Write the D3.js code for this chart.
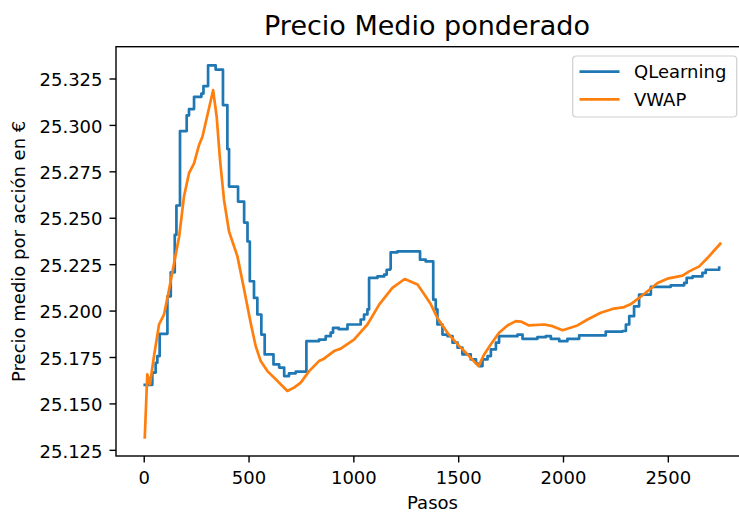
<!DOCTYPE html>
<html>
<head>
<meta charset="utf-8">
<script src="https://cdn.jsdelivr.net/npm/d3@7"></script>
<style>
  html, body { margin: 0; padding: 0; background: #fff; }
  svg { display: block; font-family: "DejaVu Sans", sans-serif; }
</style>
</head>
<body>
<svg id="chart" width="739" height="515"></svg>
<script>
// Step positions and average price for the Q-learning agent (held until the next step)
const qlearningPasos = [5, 41, 57, 65, 76, 113, 129, 148, 156, 173, 205, 216, 240, 275, 285, 307, 343, 378, 399, 407,
  450, 479, 495, 506, 526, 542, 561, 577, 619, 646, 670, 693, 725, 776, 836, 868, 892, 903, 930, 972,
  1035, 1051, 1067, 1075, 1115, 1147, 1159, 1175, 1178, 1210, 1318, 1345, 1381, 1393, 1401, 1425, 1449, 1473, 1497, 1520,
  1560, 1585, 1600, 1616, 1640, 1656, 1680, 1695, 1783, 1807, 1878, 1918, 1942, 1982, 2021, 2077, 2204, 2284, 2300, 2316,
  2339, 2363, 2419, 2514, 2578, 2590, 2618, 2665, 2681, 2745];
const qlearningPrecio = [25.1600, 25.1666, 25.1719, 25.1755, 25.1875, 25.2077, 25.2206, 25.2408, 25.2566, 25.2967, 25.3051, 25.3085, 25.3151, 25.3169, 25.3209, 25.3321, 25.3298, 25.3107, 25.2870, 25.2668,
  25.2587, 25.2474, 25.2372, 25.2158, 25.2068, 25.1979, 25.1871, 25.1764, 25.1710, 25.1693, 25.1647, 25.1662, 25.1671, 25.1835, 25.1844, 25.1862, 25.1881, 25.1907, 25.1900, 25.1925,
  25.1952, 25.1979, 25.2006, 25.2176, 25.2184, 25.2194, 25.2220, 25.2225, 25.2313, 25.2319, 25.2274, 25.2265, 25.2059, 25.2006, 25.1925, 25.1871, 25.1862, 25.1827, 25.1800, 25.1764,
  25.1737, 25.1715, 25.1701, 25.1737, 25.1755, 25.1791, 25.1827, 25.1862, 25.1871, 25.1848, 25.1857, 25.1862, 25.1848, 25.1835, 25.1848, 25.1866, 25.1887, 25.1890, 25.1925, 25.1970,
  25.2023, 25.2086, 25.2128, 25.2136, 25.2149, 25.2176, 25.2184, 25.2203, 25.2220, 25.2231];

// VWAP benchmark price
const vwapPasos = [5, 17, 30, 49, 73, 97, 121, 145, 169, 192, 216, 240, 264, 280, 304, 331, 348, 364, 383, 407,
  447, 479, 510, 534, 558, 590, 638, 685, 717, 749, 789, 836, 860, 908, 940, 1003, 1067, 1123, 1186, 1245,
  1306, 1334, 1369, 1401, 1449, 1504, 1552, 1597, 1624, 1656, 1695, 1735, 1775, 1799, 1838, 1910, 1950, 1998, 2069, 2117,
  2180, 2236, 2292, 2324, 2363, 2403, 2451, 2498, 2570, 2602, 2650, 2689, 2750];
const vwapPrecio = [25.1317, 25.1657, 25.1603, 25.1755, 25.1925, 25.1979, 25.2113, 25.2256, 25.2399, 25.2614, 25.2740, 25.2793, 25.2892, 25.2936, 25.3053, 25.3187, 25.3044, 25.2811, 25.2596, 25.2426,
  25.2292, 25.2113, 25.1934, 25.1809, 25.1728, 25.1674, 25.1621, 25.1567, 25.1585, 25.1612, 25.1674, 25.1728, 25.1741, 25.1782, 25.1795, 25.1844, 25.1925, 25.2032, 25.2122, 25.2170,
  25.2140, 25.2095, 25.2035, 25.1960, 25.1880, 25.1810, 25.1755, 25.1701, 25.1764, 25.1818, 25.1881, 25.1920, 25.1943, 25.1941, 25.1920, 25.1925, 25.1916, 25.1894, 25.1920, 25.1952,
  25.1988, 25.2009, 25.2019, 25.2035, 25.2068, 25.2104, 25.2149, 25.2172, 25.2188, 25.2211, 25.2238, 25.2283, 25.2360];

const seriesNames = ["QLearning", "VWAP"];
const seriesColors = ["#1f77b4", "#ff7f0e"];
const xTicks = [0, 500, 1000, 1500, 2000, 2500];
const yTicks = [25.125, 25.150, 25.175, 25.200, 25.225, 25.250, 25.275, 25.300, 25.325];

const svg = d3.select("#chart");
const plot = { left: 116, right: 749, top: 46.7, bottom: 456 };

// Axis limits with a 5% margin around the data, as matplotlib does
const allX = qlearningPasos.concat(vwapPasos);
const allY = qlearningPrecio.concat(vwapPrecio);
const [x0, x1] = d3.extent(allX);
const [y0, y1] = d3.extent(allY);
const padX = (x1 - x0) * 0.05, padY = (y1 - y0) * 0.05;

const x = d3.scaleLinear().domain([x0 - padX, x1 + padX]).range([plot.left, plot.right]);
const y = d3.scaleLinear().domain([y0 - padY, y1 + padY]).range([plot.bottom, plot.top]);

// Lines
const qData = qlearningPasos.map((p, i) => [p, qlearningPrecio[i]]);
const vData = vwapPasos.map((p, i) => [p, vwapPrecio[i]]);

const stepLine = d3.line().x(d => x(d[0])).y(d => y(d[1])).curve(d3.curveStepAfter);
const smoothLine = d3.line().x(d => x(d[0])).y(d => y(d[1]));

svg.append("path").datum(qData)
  .attr("d", stepLine)
  .attr("fill", "none").attr("stroke", seriesColors[0])
  .attr("stroke-width", 2.7).attr("stroke-linejoin", "round").attr("stroke-linecap", "square");

svg.append("path").datum(vData)
  .attr("d", smoothLine)
  .attr("fill", "none").attr("stroke", seriesColors[1])
  .attr("stroke-width", 2.7).attr("stroke-linejoin", "round").attr("stroke-linecap", "square");

// Axes
const xAxis = d3.axisBottom(x).tickValues(xTicks).tickSize(6.5).tickPadding(8).tickFormat(d3.format("d"));
const yAxis = d3.axisLeft(y).tickValues(yTicks).tickSize(6.5).tickPadding(7).tickFormat(d3.format(".3f"));

const gx = svg.append("g").attr("transform", `translate(0,${plot.bottom})`).call(xAxis);
const gy = svg.append("g").attr("transform", `translate(${plot.left},0)`).call(yAxis);

[gx, gy].forEach(g => {
  g.select(".domain").remove();
  g.selectAll(".tick line").attr("stroke", "#000").attr("stroke-width", 1.4);
  g.selectAll(".tick text").attr("fill", "#000")
    .style("font-family", "'DejaVu Sans', sans-serif").style("font-size", "18px");
});
gx.selectAll(".tick text").attr("dy", "0.75em");
gy.selectAll(".tick text").attr("dy", "0.40em");

// Frame
svg.append("rect")
  .attr("x", plot.left).attr("y", plot.top)
  .attr("width", plot.right - plot.left).attr("height", plot.bottom - plot.top)
  .attr("fill", "none").attr("stroke", "#000").attr("stroke-width", 1.4);

// Titles
svg.append("text")
  .attr("x", 427).attr("y", 35)
  .attr("text-anchor", "middle")
  .style("font-size", "27px")
  .text("Precio Medio ponderado");

svg.append("text")
  .attr("x", (plot.left + plot.right) / 2).attr("y", 509)
  .attr("text-anchor", "middle")
  .style("font-size", "18px")
  .text("Pasos");

svg.append("text")
  .attr("transform", `translate(24.5,${(plot.top + plot.bottom) / 2}) rotate(-90)`)
  .attr("text-anchor", "middle")
  .style("font-size", "18px")
  .text("Precio medio por acción en €");

// Legend
const legend = svg.append("g").attr("transform", "translate(572.7,56)");
legend.append("rect")
  .attr("width", 164).attr("height", 61).attr("rx", 3.5)
  .attr("fill", "#fff").attr("fill-opacity", 0.8)
  .attr("stroke", "#d0d0d0").attr("stroke-width", 1.2);

seriesNames.forEach((name, i) => {
  const yy = 15.7 + i * 27.6;
  legend.append("line")
    .attr("x1", 6.8).attr("x2", 46.8).attr("y1", yy).attr("y2", yy)
    .attr("stroke", seriesColors[i]).attr("stroke-width", 2.7);
  legend.append("text")
    .attr("x", 61.3).attr("y", yy + 6.6)
    .style("font-size", "18px")
    .text(name);
});
</script>
</body>
</html>
